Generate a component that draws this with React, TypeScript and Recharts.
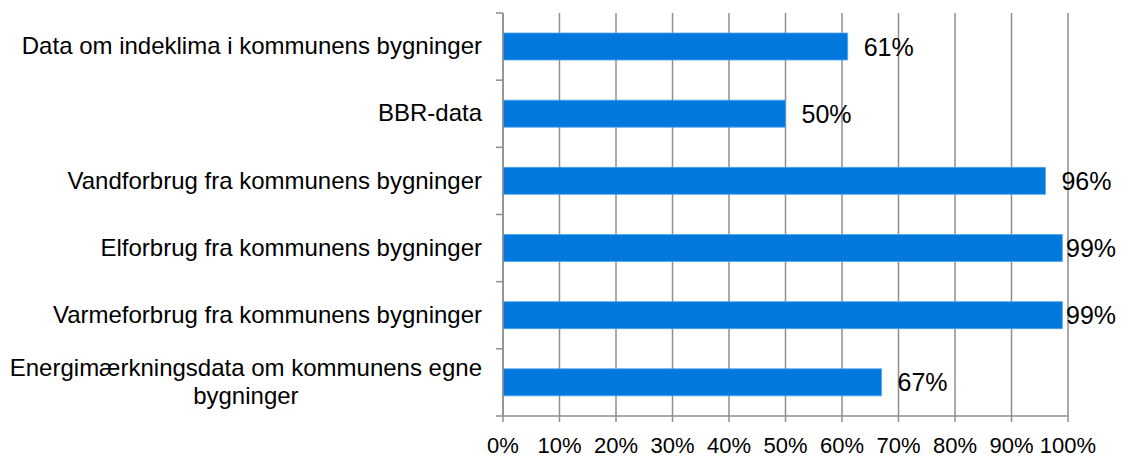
import React from 'react';
import { BarChart, Bar, XAxis, YAxis, CartesianGrid, LabelList } from 'recharts';

const categories = [
  'Data om indeklima i kommunens bygninger',
  'BBR-data',
  'Vandforbrug fra kommunens bygninger',
  'Elforbrug fra kommunens bygninger',
  'Varmeforbrug fra kommunens bygninger',
  'Energimærkningsdata om kommunens egne bygninger',
];
const values = [61, 50, 96, 99, 99, 67];
const xTicks = [0, 10, 20, 30, 40, 50, 60, 70, 80, 90, 100];

const data = categories.map((name, i) => ({ name, value: values[i] }));

const W = 1130;
const H = 457;
const MARGIN = { top: 13, right: 62, bottom: 0, left: 0 };
const FONT = "'Liberation Sans', Arial, Helvetica, sans-serif";
const AXIS_COLOR = '#8e8e8e';
const BAR_COLOR = '#0078dc';
const Y_TICK_SIZE = 7;
const Y_TICK_MARGIN = 14;

let ctx: CanvasRenderingContext2D | null = null;
function measure(text: string, size: number): number {
  if (!ctx) {
    const c = document.createElement('canvas');
    ctx = c.getContext('2d');
  }
  if (!ctx) return text.length * size * 0.5;
  ctx.font = `${size}px ${FONT}`;
  return ctx.measureText(text).width;
}

function wrap(text: string, size: number, maxW: number): string[] {
  const words = text.split(' ');
  const lines: string[] = [];
  let cur = '';
  for (const w of words) {
    const t = cur ? cur + ' ' + w : w;
    if (cur && measure(t, size) > maxW) {
      lines.push(cur);
      cur = w;
    } else {
      cur = t;
    }
  }
  if (cur) lines.push(cur);
  return lines;
}

const CategoryTick = (props: any) => {
  const { x, y, payload, index, visibleTicksCount } = props;
  const size = 24;
  const half = Number(payload?.offset) || 0;
  const axisX = x + Y_TICK_MARGIN + Y_TICK_SIZE;
  const marks = [y - half];
  if (index === visibleTicksCount - 1) marks.push(y + half);
  const tickMarks = marks.map((my, i) => (
    <line key={'m' + i} x1={axisX - Y_TICK_SIZE} x2={axisX} y1={my} y2={my} stroke={AXIS_COLOR} strokeWidth={1.5} />
  ));
  const lines = wrap(String(payload.value), size, 480);
  if (lines.length === 1) {
    return (
      <g>
        {tickMarks}
        <text x={x} y={y} dy="0.32em" textAnchor="end" fontSize={size} fontFamily={FONT} fill="#000">
          {lines[0]}
        </text>
      </g>
    );
  }
  const maxW = Math.max(...lines.map((l) => measure(l, size)));
  const cx = x - maxW / 2;
  const lh = 28;
  const y0 = y - ((lines.length - 1) * lh) / 2;
  return (
    <g>
      {tickMarks}
      <text textAnchor="middle" fontSize={size} fontFamily={FONT} fill="#000">
        {lines.map((l, i) => (
          <tspan key={i} x={cx} y={y0 + i * lh} dy="0.32em">
            {l}
          </tspan>
        ))}
      </text>
    </g>
  );
};

const ValueLabel = (props: any) => {
  const { x, y, width, height, value } = props;
  const end = Number(x) + Number(width);
  const plotRight = W - MARGIN.right;
  const lx = Math.min(end + 16, plotRight - 2);
  return (
    <text x={lx} y={Number(y) + Number(height) / 2} dy="0.36em" fontSize={25} fontFamily={FONT} fill="#000">
      {value}%
    </text>
  );
};

export default function App() {
  return (
    <div style={{ position: 'absolute', left: 0, top: 0, width: W, height: H, background: '#fff' }}>
      <BarChart width={W} height={H} data={data} layout="vertical" margin={MARGIN}>
        <CartesianGrid horizontal={false} vertical={true} stroke={AXIS_COLOR} strokeWidth={1.5} />
        <XAxis
          type="number"
          domain={[0, 100]}
          ticks={xTicks}
          interval={0}
          tickFormatter={(v: number) => `${v}%`}
          height={41}
          tickSize={6}
          tickMargin={15}
          axisLine={{ stroke: AXIS_COLOR, strokeWidth: 1.5 }}
          tickLine={{ stroke: AXIS_COLOR, strokeWidth: 1.5 }}
          tick={{ fill: '#000', fontSize: 22, fontFamily: FONT }}
        />
        <YAxis
          type="category"
          dataKey="name"
          width={503}
          interval={0}
          tickSize={Y_TICK_SIZE}
          tickMargin={Y_TICK_MARGIN}
          axisLine={{ stroke: AXIS_COLOR, strokeWidth: 1.5 }}
          tickLine={false}
          tick={<CategoryTick />}
        />
        <Bar
          dataKey="value"
          fill={BAR_COLOR}
          stroke="#4fa3ec"
          strokeWidth={0.8}
          barSize={27}
          isAnimationActive={false}
        >
          <LabelList dataKey="value" content={<ValueLabel />} />
        </Bar>
      </BarChart>
    </div>
  );
}
